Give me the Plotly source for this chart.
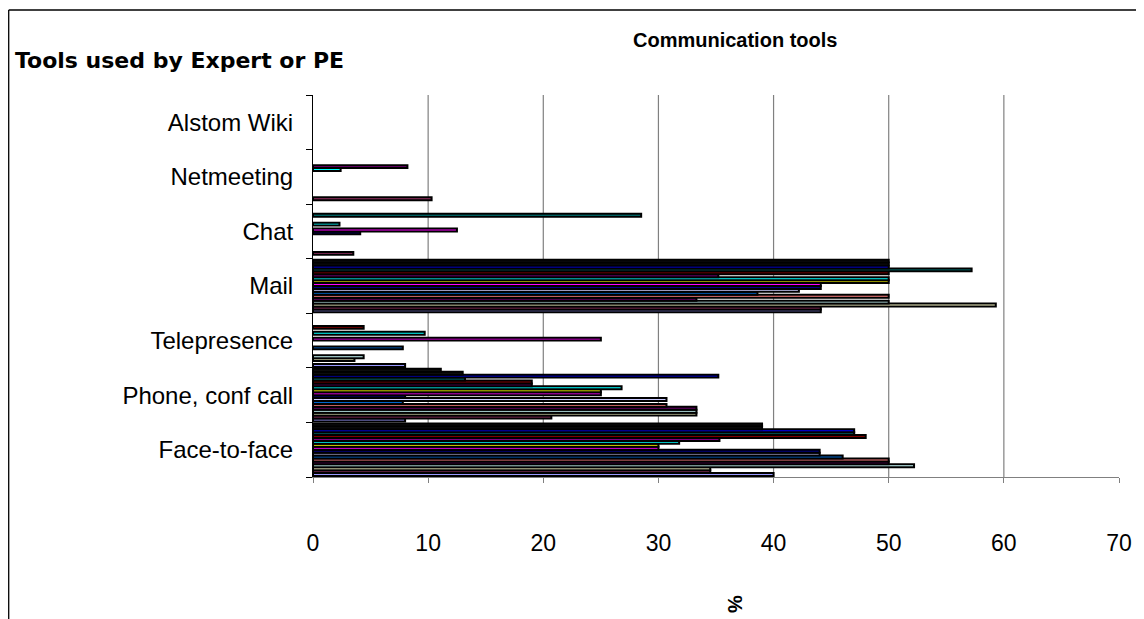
import plotly.graph_objects as go

categories = ["Face-to-face", "Phone, conf call", "Telepresence", "Mail", "Chat", "Netmeeting", "Alstom Wiki"]
x_ticks = [0, 10, 20, 30, 40, 50, 60, 70]

# values per category in the order of `categories` (None = no bar)
s01 = [40.0, 8.0, 8.0, 44.1, None, None, None]
s02 = [34.5, 20.7, None, 44.1, 3.5, 10.3, None]
s03 = [34.5, 33.3, 3.6, 59.3, None, None, None]
s04 = [52.2, 33.3, 4.4, 50.0, None, None, None]
s05 = [50.0, 33.3, None, 33.3, None, None, None]
s06 = [50.0, 30.7, None, 50.0, None, None, None]
s07 = [46.0, 7.8, 7.8, 38.6, None, None, None]
s08 = [44.0, 30.7, None, 42.2, None, None, None]
s09 = [44.0, 8.0, None, 44.1, 4.1, None, None]
s10 = [30.0, 25.0, 25.0, 44.1, 12.5, None, None]
s11 = [30.0, 25.0, None, 50.0, None, None, None]
s12 = [31.8, 26.8, 9.7, 50.0, 2.3, 2.4, None]
s13 = [35.3, 19.0, None, 35.2, None, 8.2, None]
s14 = [48.0, 19.0, 4.4, 50.0, None, None, None]
s15 = [47.0, 13.2, None, 57.2, 28.5, None, None]
s16 = [47.0, 35.2, None, 50.0, None, None, None]
s17 = [39.0, 13.0, None, 50.0, None, None, None]
s18 = [39.0, 11.1, None, 50.0, None, None, None]

series = [s01, s02, s03, s04, s05, s06, s07, s08, s09, s10, s11, s12, s13, s14, s15, s16, s17, s18]
colors = ["#9999FF", "#993366", "#FFFFCC", "#CCFFFF", "#660066", "#FF8080", "#0066CC", "#CCCCFF",
          "#000080", "#FF00FF", "#FFFF00", "#00FFFF", "#800080", "#800000", "#008080", "#0000FF",
          "#111111", "#111111"]

OFF = 8  # page body margin
W, H = 1144 - OFF, 619 - OFF
L, R, T, B = 312.5 - OFF, 1121.7 - OFF, 95 - OFF, 477 - OFF


def px(xp):
    return (xp - OFF - L) / (R - L)


def py(yp):
    return (B - (yp - OFF)) / (B - T)


fig = go.Figure()
for i, vals in enumerate(series):
    fig.add_trace(go.Bar(
        y=categories, x=vals, orientation="h", name=f"Series {i+1}",
        marker=dict(color=colors[i], line=dict(color="black", width=2.0)),
    ))

grid_shapes = [
    dict(type="line", xref="x", yref="paper", x0=v, x1=v, y0=0, y1=1, layer="below",
         line=dict(color="#808080", width=1.2))
    for v in x_ticks[1:-1]
]

fig.update_layout(
    width=W, height=H,
    margin=dict(l=L, r=W - R, t=T, b=H - B, pad=0),
    paper_bgcolor="white", plot_bgcolor="white",
    barmode="group", bargap=0.035, bargroupgap=0,
    showlegend=False,
    font=dict(family="Liberation Sans, Arial, sans-serif", color="black"),
    xaxis=dict(range=[0, 70], tickvals=x_ticks, showgrid=False,
               zeroline=False, showline=True, linecolor="#808080", linewidth=1,
               ticks="outside", ticklen=5, tickcolor="#808080",
               tickfont=dict(size=23), ticklabelstandoff=40),
    yaxis=dict(categoryorder="array", categoryarray=categories, showgrid=False, zeroline=False,
               showline=True, linecolor="black", linewidth=1, ticks="outside", ticklen=6,
               tickcolor="black", tickson="boundaries", tickfont=dict(size=24),
               ticklabelstandoff=14),
    shapes=grid_shapes + [
        dict(type="line", xref="paper", yref="paper", x0=px(7), y0=py(10), x1=px(1160), y1=py(10),
             line=dict(color="black", width=1.3)),
        dict(type="line", xref="paper", yref="paper", x0=px(7), y0=py(10), x1=px(7), y1=py(640),
             line=dict(color="black", width=1.3)),
    ],
    annotations=[
        dict(text="<b>Communication tools</b>", xref="paper", yref="paper", x=px(736), y=py(40),
             showarrow=False, font=dict(size=20), xanchor="center", yanchor="middle"),
        dict(text="<b>Tools used by Expert or PE</b>", xref="paper", yref="paper", x=px(11), y=py(60),
             showarrow=False, font=dict(size=22, family="DejaVu Sans, sans-serif"),
             xanchor="left", yanchor="middle"),
        dict(text="<b>%</b>", xref="paper", yref="paper", x=px(736), y=py(604),
             showarrow=False, font=dict(size=20), xanchor="center", yanchor="middle", textangle=90),
    ],
)

fig.write_html("out.html")
